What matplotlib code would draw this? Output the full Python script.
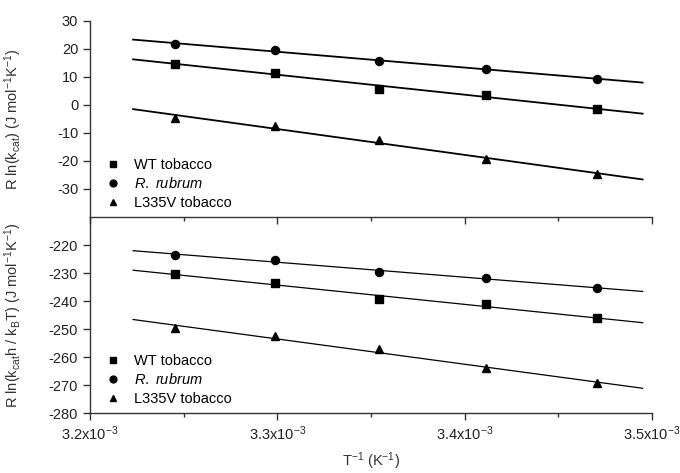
import numpy as np
import matplotlib.pyplot as plt

plt.rcParams['font.family'] = ['Liberation Sans', 'DejaVu Sans']
plt.rcParams['mathtext.fontset'] = 'custom'
plt.rcParams['mathtext.rm'] = 'Liberation Sans'
plt.rcParams['mathtext.it'] = 'Liberation Sans:italic'
plt.rcParams['axes.unicode_minus'] = False

# inverse temperature (1/K)
inv_T = [3.2452e-3, 3.2987e-3, 3.3540e-3, 3.4112e-3, 3.4704e-3]
fit_range = [3.223e-3, 3.495e-3]

labels = ['WT tobacco', r'$\it{R.\ rubrum}$', 'L335V tobacco']
markers = ['s', 'o', '^']

# R ln(kcat)
top_wt = [14.6, 11.5, 5.6, 3.6, -1.5]
top_rr = [21.7, 19.6, 15.5, 12.9, 9.2]
top_l335v = [-4.8, -7.5, -12.5, -19.3, -24.8]

# R ln(kcat h / kB T)
bot_wt = [-230.5, -233.7, -239.3, -241.1, -246.2]
bot_rr = [-223.6, -225.4, -229.5, -231.7, -235.5]
bot_l335v = [-249.8, -252.5, -257.3, -264.0, -269.4]

fig = plt.figure(figsize=(6.8, 4.73), dpi=100)
ax1 = fig.add_axes([0.1324, 0.5412, 0.8264, 0.4150])
ax2 = fig.add_axes([0.1324, 0.1268, 0.8264, 0.4144])

xl = np.array(fit_range)
for ax, series, lw in [(ax1, [top_wt, top_rr, top_l335v], 1.3),
                       (ax2, [bot_wt, bot_rr, bot_l335v], 0.9)]:
    ax.patch.set_visible(False)
    for ys, m, lab in zip(series, markers, labels):
        p = np.polyfit(inv_T, ys, 1)
        ax.plot(xl, np.polyval(p, xl), color='black', lw=lw)
        ax.plot(inv_T, ys, ls='none', marker=m, color='black', ms=5.8, label=lab)
    ax.set_xlim(3.2e-3, 3.5e-3)
    ax.spines['top'].set_visible(False)
    ax.spines['right'].set_visible(False)
    for s in ['left', 'bottom']:
        ax.spines[s].set_linewidth(1.0)
        ax.spines[s].set_color('#333333')
    ax.set_xticks([3.2e-3, 3.3e-3, 3.4e-3, 3.5e-3])
    ax.set_xticks([3.25e-3, 3.35e-3, 3.45e-3], minor=True)
    ax.tick_params(which='major', length=5, width=1.0, labelsize=10.5,
                   color='#333333', labelcolor='#222222')
    ax.tick_params(which='minor', length=3, width=1.0, color='#333333')
    ax.legend(loc='lower left', bbox_to_anchor=(0.01, -0.015), frameon=False,
              fontsize=10.5, handlelength=1.0, handletextpad=0.9,
              labelspacing=0.3, borderaxespad=0.3, markerscale=0.85)

ax1.set_ylim(-40, 30)
ax1.set_yticks([-30, -20, -10, 0, 10, 20, 30])
ax1.tick_params(axis='x', labelbottom=False)
ax1.set_ylabel(r'R ln(k$_{\mathrm{cat}}$) (J mol$^{-1}$K$^{-1}$)', fontsize=10.5, color='#333333')

ax2.set_ylim(-280, -210)
ax2.set_yticks([-280, -270, -260, -250, -240, -230, -220])
ax2.set_xticklabels([r'3.2x10$^{-3}$', r'3.3x10$^{-3}$', r'3.4x10$^{-3}$', r'3.5x10$^{-3}$'])
ax2.set_ylabel(r'R ln(k$_{\mathrm{cat}}$h / k$_{\mathrm{B}}$T) (J mol$^{-1}$K$^{-1}$)',
               fontsize=10.5, color='#333333')
ax2.set_xlabel(r'T$^{-1}$ (K$^{-1}$)', fontsize=10.5, color='#333333', labelpad=5)

for ax in (ax1, ax2):
    ax.yaxis.set_label_coords(-0.118, 0.5)

fig.savefig('out.png', dpi=100)
